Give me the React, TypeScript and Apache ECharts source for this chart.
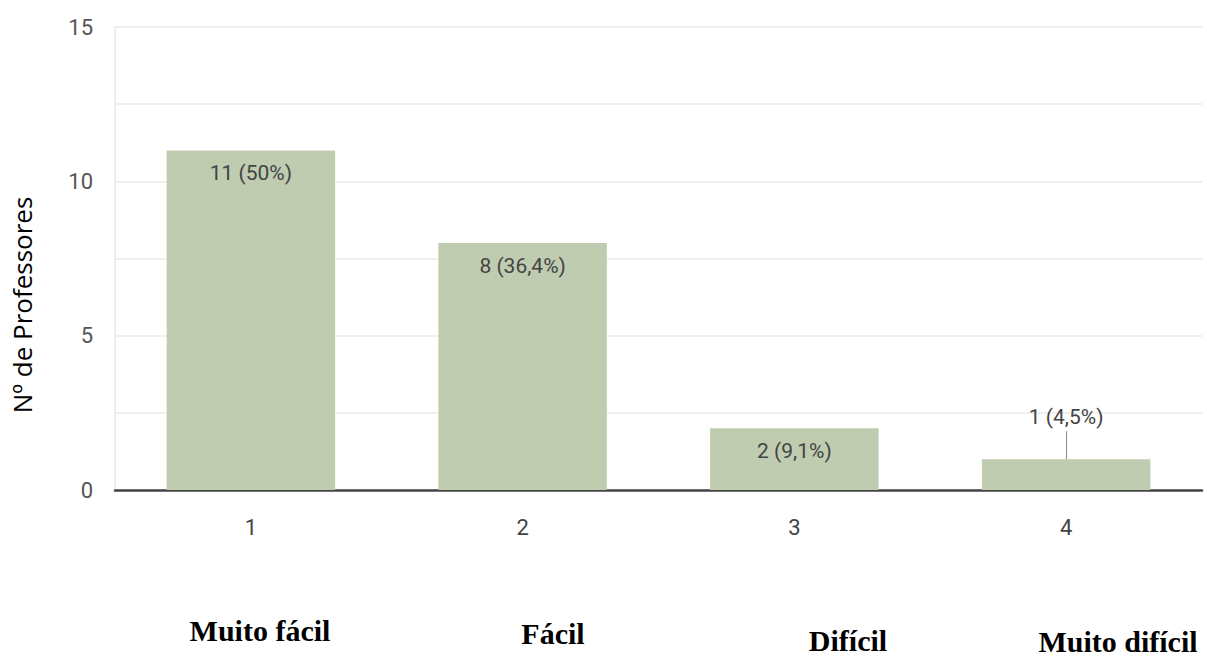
import React, { useEffect, useRef } from "react";
import * as echarts from "echarts";

const categories = ["1", "2", "3", "4"];
const categoryNames = ["Muito fácil", "Fácil", "Difícil", "Muito difícil"];
const values = [11, 8, 2, 1];
const percents = ["50%", "36,4%", "9,1%", "4,5%"];
const yTickLabels = [0, 5, 10, 15];
const yAxisTitle = "Nº de Professores";

const narrow = "'Roboto', sans-serif";

export default function App() {
  const ref = useRef<HTMLDivElement>(null);
  useEffect(() => {
    if (!ref.current) return;
    const chart = echarts.init(ref.current, null, { renderer: "svg" });
    const namePos = [
      { x: 260, y: 630 },
      { x: 553, y: 633 },
      { x: 848, y: 640 },
      { x: 1118, y: 641 },
    ];
    chart.setOption({
      animation: false,
      backgroundColor: "#ffffff",
      grid: { left: 115, right: 5, top: 27, bottom: 171, containLabel: false },
      xAxis: {
        type: "category",
        data: categories,
        axisLine: { show: true, lineStyle: { color: "#444", width: 2.5 } },
        axisTick: { show: false },
        axisLabel: {
          color: "#444",
          fontSize: 22,
          fontFamily: narrow,
          margin: 26,
        },
      },
      yAxis: {
        type: "value",
        min: 0,
        max: 15,
        interval: 2.5,
        axisLine: { show: true, lineStyle: { color: "#eeeeee", width: 2 } },
        axisTick: { show: false },
        splitLine: { lineStyle: { color: "#efefef", width: 2 } },
        axisLabel: {
          color: "#555",
          fontSize: 22,
          fontFamily: narrow,
          margin: 22,
          formatter: (v: number) => (yTickLabels.includes(v) ? String(v) : ""),
        },
      },
      series: [
        {
          type: "bar",
          barWidth: "62%",
          itemStyle: { color: "#bfccb0" },
          data: values.map((v, i) => ({
            value: v,
            label:
              i === 3
                ? { position: "top", distance: 32 }
                : { position: "insideTop", distance: 12 },
          })),
          label: {
            show: true,
            color: "#444",
            fontSize: 21,
            fontFamily: narrow,
            formatter: (p: any) => `${values[p.dataIndex]} (${percents[p.dataIndex]})`,
          },
          markLine: {
            silent: true,
            symbol: "none",
            label: { show: false },
            lineStyle: { color: "#888", width: 1, type: "solid" },
            data: [
              [
                { coord: [categories[3], values[3]] },
                { coord: [categories[3], values[3] + 0.9] },
              ],
            ],
          },
        },
      ],
      graphic: [
        {
          type: "text",
          x: 22,
          y: 305,
          rotation: Math.PI / 2,
          style: {
            text: yAxisTitle,
            fill: "#000",
            font: "26px 'Open Sans', sans-serif",
            align: "center",
            verticalAlign: "middle",
          },
        },
        ...categoryNames.map((n, i) => ({
          type: "text",
          x: namePos[i].x,
          y: namePos[i].y,
          style: {
            text: n,
            fill: "#000",
            font: "bold 30px 'Liberation Serif', serif",
            align: "center",
            verticalAlign: "middle",
          },
        })),
      ],
    });
    return () => chart.dispose();
  }, []);
  return (
    <div
      ref={ref}
      style={{ position: "fixed", left: 0, top: 0, width: 1207, height: 661 }}
    />
  );
}
